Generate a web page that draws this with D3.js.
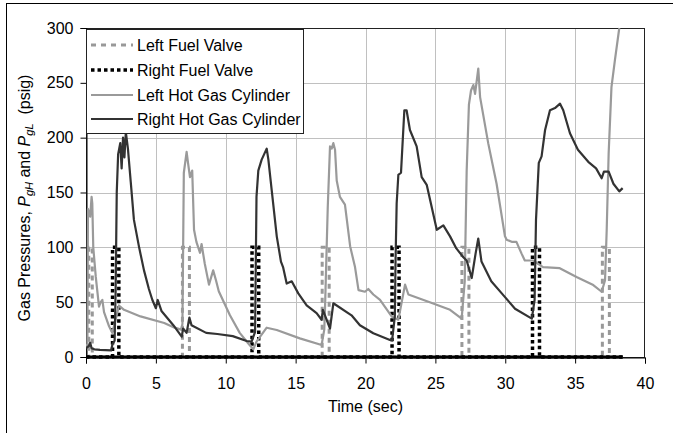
<!DOCTYPE html>
<html><head><meta charset="utf-8">
<script src="https://cdn.jsdelivr.net/npm/d3@7"></script>
<style>
body{margin:0;background:#fff}
svg{display:block}
text{font-family:"Liberation Sans",Arial,sans-serif;fill:#000}
</style>
</head><body>
<svg id="c" width="673" height="433"></svg>
<script>
// ---------- data ----------
const xTicks = [0,5,10,15,20,25,30,35,40];
const yTicks = [0,50,100,150,200,250,300];
const seriesNames = ["Left Fuel Valve","Right Fuel Valve","Left Hot Gas Cylinder","Right Hot Gas Cylinder"];

// valve signals (step series: time, value)
const leftValveT  = [0,0.2,0.2,0.45,0.45,6.9,6.9,7.4,7.4,16.9,16.9,17.4,17.4,26.9,26.9,27.4,27.4,36.95,36.95,37.45,37.45,38.4];
const leftValveP  = [0,0,100,100,0,0,100,100,0,0,100,100,0,0,100,100,0,0,100,100,0,0];
const rightValveT = [0,1.9,1.9,2.35,2.35,11.88,11.88,12.36,12.36,21.9,21.9,22.4,22.4,31.95,31.95,32.45,32.45,38.4];
const rightValveP = [0,0,100,100,0,0,100,100,0,0,100,100,0,0,100,100,0,0];

const leftCylT = [0,0.1,0.14,0.3,0.4,0.45,0.52,0.7,0.93,1.05,1.17,1.29,1.65,1.88,2.12,2.36,2.72,3.9,5.6,6.3,6.8,6.9,7.0,7.2,7.3,7.44,7.6,7.73,7.9,8.16,8.27,8.5,8.8,9.1,9.3,9.5,10.3,11.0,11.6,11.97,12.2,12.93,13.65,15.3,16.86,17.05,17.1,17.3,17.46,17.58,17.7,17.82,17.94,18.17,18.53,18.9,19.25,19.5,19.96,20.2,20.56,21.04,21.87,22.35,22.83,23.07,24.6,26.05,26.88,27.1,27.24,27.4,27.55,27.72,27.84,28.07,28.2,28.78,29.38,29.98,30.1,30.46,30.8,31.16,31.4,32.0,32.7,33.9,35.1,36.3,36.9,37.14,37.26,37.4,37.6,37.85,38.16];
const leftCylP = [9,12,135,128,146,140,100,73,46,50,52,41,28,22,34,47,43,37,31,27,25,30,168,187,177,164,170,116,105,95,103,85,66,79,70,60,38,22,12.5,7,14,26.7,24.6,17,11,25,43,137,192,190,195,189,161,146,139,101,82,61,59.5,62,57,52,37,34,66,57,50,43,35,69,170,230,243,248,240,263,237,195,158,110,107,105,105,94.5,88,88,82,81,73,65.6,59.5,70,116,186,246,271,300];

const rightCylT = [0,0.2,0.3,0.4,0.6,1.0,1.8,1.9,2.05,2.12,2.2,2.3,2.45,2.55,2.65,2.75,2.85,3.0,3.2,3.43,3.8,4.15,4.5,4.75,5.0,5.13,5.4,6.25,6.85,6.95,7.2,7.4,7.55,8.6,9.4,10.5,11.5,11.85,12.1,12.2,12.33,12.57,12.93,13.05,13.29,13.65,13.95,14.1,14.36,14.72,15.19,15.79,16.5,16.86,16.95,17.1,17.46,17.7,19.0,19.6,20.56,21.75,21.9,22.1,22.15,22.23,22.35,22.54,22.78,22.94,23.18,23.66,24.02,24.38,25.1,25.57,26.05,26.5,27.0,27.24,27.6,27.88,28.07,28.3,29.0,29.75,30.7,31.9,32.1,32.2,32.4,32.6,32.85,33.2,33.56,33.92,34.15,34.63,35.2,35.94,36.5,36.9,37.06,37.4,37.74,38.16,38.4];
const rightCylP = [8,10,13,8,7,6.5,6,12,15,60,150,185,195,172,200,182,205,190,160,125,100,79,62,52,44.5,52,42,29,18.5,26,22,36,29,22,21,19,14.6,14,23,146,170,180,190,180,152,110,87,82,67,69,58,47,40,34,43,38,26,49,38,29,21.6,15.5,15,37,88,140,166,168,225,225,207,192,164,157,116,120,110,99,91,88,72,94.5,108,87,69,58,44,35,52,125,177,183,207,225,227,231,225,204,189,178,172,163,169,169,158,151,154];

// ---------- layout ----------
const W = 673, H = 433;
const L = 86, R = 645, T = 28, B = 357;
const svg = d3.select("#c");
const x = d3.scaleLinear().domain([0,40]).range([L,R]);
const y = d3.scaleLinear().domain([0,300]).range([B,T]);
const zip = (ts, ps) => ts.map((t,i)=>[t,ps[i]]);

// outer chart border (only left/top visible)
svg.append("rect").attr("x",6.5).attr("y",3.5).attr("width",800).attr("height",600)
  .attr("fill","none").attr("stroke","#000").attr("stroke-width",1);

// gridlines
svg.append("g").selectAll("line").data(xTicks.filter(d=>d>0&&d<40)).join("line")
  .attr("x1",d=>Math.round(x(d))+0.5).attr("x2",d=>Math.round(x(d))+0.5)
  .attr("y1",T).attr("y2",B).attr("stroke","#c0c0c0").attr("stroke-width",1);
svg.append("g").selectAll("line").data(yTicks.filter(d=>d>0&&d<300)).join("line")
  .attr("y1",d=>Math.round(y(d))+0.5).attr("y2",d=>Math.round(y(d))+0.5)
  .attr("x1",L).attr("x2",R).attr("stroke","#c0c0c0").attr("stroke-width",1);

// plot frame
svg.append("rect").attr("x",L+0.5).attr("y",T+0.5).attr("width",R-L-1).attr("height",B-T)
  .attr("fill","none").attr("stroke","#222").attr("stroke-width",1);

// axes
const yAxis = svg.append("g").attr("transform",`translate(${L+0.5},0)`)
  .call(d3.axisLeft(y).tickValues(yTicks).tickSize(6).tickPadding(7).tickFormat(d3.format("d")));
const xAxis = svg.append("g").attr("transform",`translate(0,${B+0.5})`)
  .call(d3.axisBottom(x).tickValues(xTicks).tickSize(6).tickPadding(14).tickFormat(d3.format("d")));
[xAxis,yAxis].forEach(a=>{
  a.select(".domain").attr("stroke","#000");
  a.selectAll(".tick line").attr("stroke","#000");
  a.selectAll("text").attr("font-size",16).attr("font-family",'"Liberation Sans",Arial,sans-serif').attr("fill","#000");
});

const clip = svg.append("clipPath").attr("id","pc").append("rect")
  .attr("x",L).attr("y",T-2).attr("width",R-L).attr("height",B-T+4);

const line = d3.line().x(d=>x(d[0])).y(d=>y(d[1]));
const plot = svg.append("g").attr("clip-path","url(#pc)");

// valves
const leftValve = zip(leftValveT,leftValveP);
const rightValve = zip(rightValveT,rightValveP);
plot.append("path").datum(leftValve).attr("d",line).attr("fill","none")
  .attr("stroke","#999").attr("stroke-width",3).attr("stroke-dasharray","5,4");
plot.append("path").datum(rightValve).attr("d",line).attr("fill","none")
  .attr("stroke","#000").attr("stroke-width",3.5).attr("stroke-dasharray","3.5,3");
// closed-valve baseline (dense points render solid)
const lastT = d3.max(rightValveT);
plot.append("path").datum([[0,0],[lastT,0]]).attr("d",line).attr("fill","none")
  .attr("stroke","#000").attr("stroke-width",3);

// cylinders
plot.append("path").datum(zip(leftCylT,leftCylP)).attr("d",line).attr("fill","none")
  .attr("stroke","#9a9a9a").attr("stroke-width",2.2).attr("stroke-linejoin","round");
plot.append("path").datum(zip(rightCylT,rightCylP)).attr("d",line).attr("fill","none")
  .attr("stroke","#333").attr("stroke-width",2.2).attr("stroke-linejoin","round");

// axis titles
svg.append("text").attr("x",(L+R)/2).attr("y",412).attr("text-anchor","middle")
  .attr("font-size",16).text("Time (sec)");
const yl = svg.append("text").attr("transform","translate(30,198) rotate(-90)")
  .attr("text-anchor","middle").attr("font-size",16);
yl.append("tspan").text("Gas Pressures, ");
yl.append("tspan").attr("font-style","italic").text("P");
yl.append("tspan").attr("font-style","italic").attr("font-size",11).attr("dy",3).text("gH");
yl.append("tspan").attr("dy",-3).text(" and ");
yl.append("tspan").attr("font-style","italic").text("P");
yl.append("tspan").attr("font-style","italic").attr("font-size",11).attr("dy",3).text("gL");
yl.append("tspan").attr("dy",-3).text("\u00a0\u00a0(psig)");

// legend
const lg = svg.append("g");
lg.append("rect").attr("x",86.5).attr("y",29.5).attr("width",217).attr("height",104)
  .attr("fill","#fff").attr("stroke","#222").attr("stroke-width",1);
const legY = [45,70,95,119];
const legStyle = [
  {c:"#999",w:3,da:"5,5"},
  {c:"#000",w:3.5,da:"3.5,3"},
  {c:"#9a9a9a",w:2.2,da:null},
  {c:"#333",w:2.2,da:null}
];
seriesNames.forEach((n,i)=>{
  const s = legStyle[i];
  lg.append("line").attr("x1",91).attr("x2",133).attr("y1",legY[i]).attr("y2",legY[i])
    .attr("stroke",s.c).attr("stroke-width",s.w).attr("stroke-dasharray",s.da);
  lg.append("text").attr("x",137).attr("y",legY[i]+6).attr("font-size",16).text(n);
});
</script>
</body></html>
